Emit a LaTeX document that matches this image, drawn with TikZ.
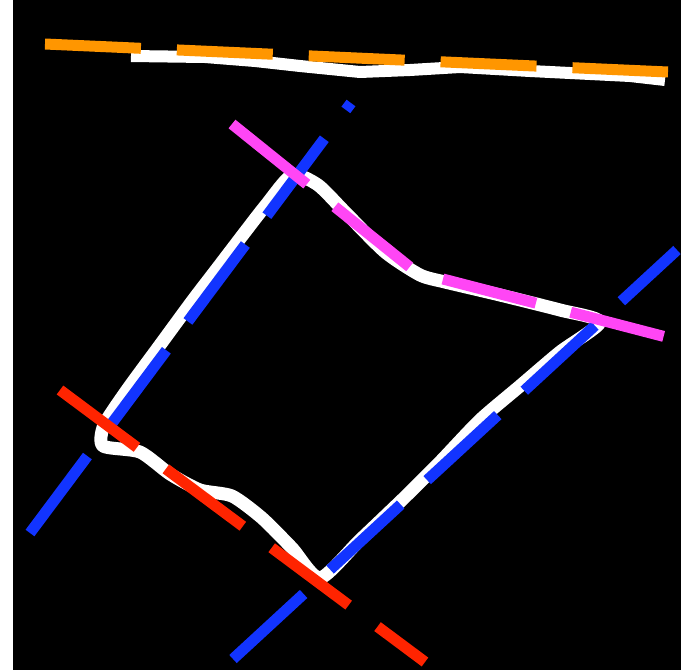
\documentclass[tikz,border=0pt]{standalone}
\definecolor{lineorange}{RGB}{255,150,0}
\definecolor{lineblue}{RGB}{18,52,255}
\definecolor{linered}{RGB}{255,36,0}
\definecolor{linemagenta}{RGB}{255,70,245}
\tikzset{
  seg/.style={line width=11pt, dash pattern=on 96pt off 36pt},
  trace/.style={white, line width=13pt, line join=round},
}
\begin{document}
\begin{tikzpicture}[x=1pt,y=-1pt]
\useasboundingbox (0,0) rectangle (681,670);
\fill[white] (0,0) rectangle (681,670);
\fill[black] (13,0) rectangle (681,670);
% white traces
\draw[trace, line width=12pt] plot coordinates {(131,56) (205,57) (255,61) (300,66) (360,72) (410,70) (460,67) (530,71) (590,74) (630,76) (665,80)};
\draw[trace] plot[smooth cycle, tension=0.4] coordinates {
  (103,446) (140,452) (170,474) (200,490) (232,496) (262,518) (292,548) (320,578)
  (360,540) (405,497) (440,462) (480,420) (520,386) (560,352) (600,322)
  (560,310) (500,295) (445,282) (420,275) (385,252) (345,212) (318,185) (292,175)
  (266,205) (245,232) (216,270) (193,300) (160,345) (127,390) (104,425)};
% coordinates
\coordinate (a1) at (30,533);  \coordinate (a2) at (351,103);
\coordinate (b1) at (233,659); \coordinate (b2) at (677,250);
\coordinate (o1) at (45,44);   \coordinate (o2) at (668,72);
\coordinate (r1) at (60,390);  \coordinate (r2) at (425,662);
\coordinate (m1) at (232,124); \coordinate (m2) at (416,272); \coordinate (m3) at (666,337);
% dashed lines
\draw[seg, lineblue] (a1) -- (a2);
\draw[seg, lineblue] (b1) -- (b2);
\draw[seg, lineorange] (o1) -- (o2);
\draw[seg, linered] (r1) -- (r2);
\draw[seg, linemagenta] (m1) -- (m2) -- (m3);
\end{tikzpicture}
\end{document}
